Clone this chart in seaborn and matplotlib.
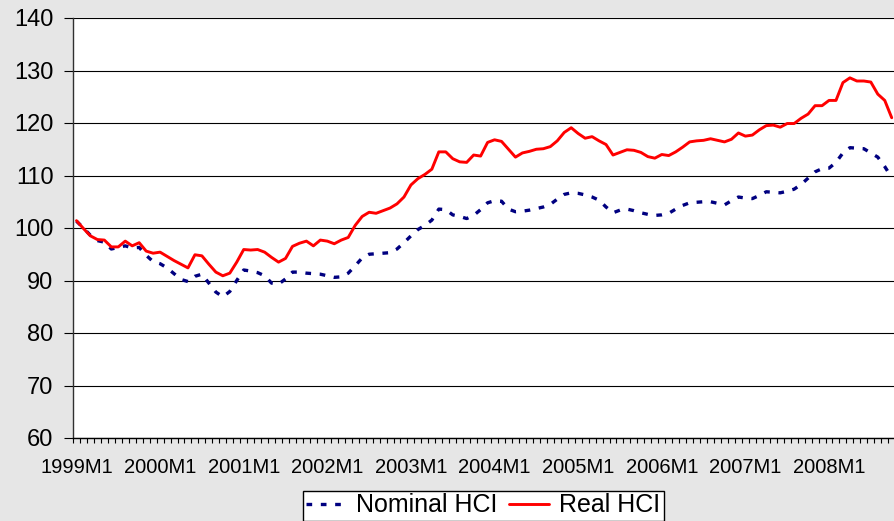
import matplotlib
matplotlib.use("Agg")
import matplotlib.pyplot as plt
import seaborn as sns
import pandas as pd
import numpy as np

# ---- data (monthly, 1999M1 .. 2008M10) ----
real_hci = [
    101.4, 99.9, 98.5, 97.8, 97.7, 96.4, 96.4, 97.5, 96.6, 97.2,
    95.6, 95.2, 95.4, 94.6, 93.8, 93.1, 92.4, 94.9, 94.7, 93.1,
    91.6, 90.9, 91.4, 93.5, 95.9, 95.8, 95.9, 95.4, 94.4, 93.5,
    94.2, 96.5, 97.1, 97.5, 96.6, 97.7, 97.5, 97.0, 97.7, 98.2,
    100.5, 102.2, 103.0, 102.8, 103.3, 103.8, 104.6, 105.9, 108.2, 109.4,
    110.2, 111.2, 114.5, 114.5, 113.2, 112.6, 112.5, 113.9, 113.7, 116.3,
    116.8, 116.5, 115.0, 113.5, 114.3, 114.6, 115.0, 115.1, 115.5, 116.6,
    118.2, 119.1, 118.0, 117.1, 117.4, 116.6, 115.9, 113.9, 114.4, 114.9,
    114.8, 114.4, 113.6, 113.3, 114.0, 113.8, 114.5, 115.4, 116.4, 116.6,
    116.7, 117.0, 116.7, 116.4, 116.9, 118.1, 117.5, 117.7, 118.7, 119.5,
    119.6, 119.2, 119.9, 119.9, 120.9, 121.7, 123.3, 123.3, 124.3, 124.3,
    127.7, 128.6, 128.0, 128.0, 127.8, 125.5, 124.3, 121.0,
]
nominal_hci = [
    101.3, 100.0, 98.6, 97.6, 97.3, 96.0, 96.3, 96.6, 96.2, 96.3,
    94.8, 93.6, 93.2, 92.4, 91.3, 90.2, 89.8, 90.8, 91.2, 89.5,
    87.8, 86.9, 87.9, 90.0, 92.0, 91.8, 91.5, 90.9, 89.5, 89.3,
    90.3, 91.6, 91.6, 91.4, 91.3, 91.2, 90.9, 90.6, 90.7, 91.4,
    92.8, 94.3, 95.0, 95.1, 95.2, 95.3, 96.0, 97.2, 98.5, 99.7,
    100.5, 101.5, 103.6, 103.5, 102.5, 102.2, 101.8, 102.4, 103.5, 104.8,
    105.2, 105.1, 103.6, 103.1, 103.2, 103.4, 103.7, 104.0, 104.5, 105.5,
    106.4, 106.7, 106.6, 106.3, 105.9, 105.3, 104.0, 102.9, 103.4, 103.6,
    103.3, 102.9, 102.6, 102.4, 102.5, 102.8, 103.6, 104.3, 104.8, 104.9,
    105.0, 105.0, 104.7, 104.4, 105.2, 105.9, 105.7, 105.6, 106.2, 106.9,
    106.8, 106.7, 107.0, 107.4, 108.3, 109.5, 110.7, 111.3, 111.4, 112.5,
    114.3, 115.3, 115.2, 115.1, 114.3, 113.5, 111.7, 109.6,
]
tick_labels = ["1999M1", "2000M1", "2001M1", "2002M1", "2003M1",
               "2004M1", "2005M1", "2006M1", "2007M1", "2008M1"]
y_ticks = [60, 70, 80, 90, 100, 110, 120, 130, 140]

n = min(len(real_hci), len(nominal_hci))
df = pd.DataFrame({"idx": np.arange(n),
                   "Nominal HCI": nominal_hci[:n],
                   "Real HCI": real_hci[:n]})

sns.set_theme(style="white")
plt.rcParams["font.family"] = ["Liberation Sans", "DejaVu Sans"]

W, H = 894, 521
fig = plt.figure(figsize=(W / 100, H / 100), dpi=100, facecolor="#e6e6e6")
ax = fig.add_axes([73 / W, 83 / H, 822.2 / W, 420 / H])
ax.set_facecolor("white")

sns.lineplot(data=df, x="idx", y="Nominal HCI", ax=ax, color="#000080",
             lw=2.4, linestyle=(0, (1.7, 2.6)), label="Nominal HCI")
sns.lineplot(data=df, x="idx", y="Real HCI", ax=ax, color="#ff0000",
             lw=2.1, label="Real HCI")
if ax.get_legend() is not None:
    ax.get_legend().remove()

ax.set_xlim(-0.5, n - 0.5)
ax.set_ylim(60, 140)
ax.set_yticks(y_ticks)
ax.set_yticklabels([str(v) for v in y_ticks])
ax.yaxis.grid(True, color="black", lw=0.8)
ax.xaxis.grid(False)
ax.set_axisbelow(True)

ax.set_xticks(np.arange(0, 12 * len(tick_labels), 12))
ax.set_xticklabels(tick_labels)
ax.set_xticks(np.arange(-0.5, n, 1), minor=True)
ax.tick_params(axis="x", which="major", length=0, pad=14.5, labelsize=14.5,
               labelcolor="black", bottom=True)
ax.tick_params(axis="x", which="minor", length=3.8, width=0.8,
               color="black", direction="out", bottom=True)
ax.tick_params(axis="y", which="major", length=6.5, width=0.8, color="black",
               direction="out", pad=7.5, labelsize=17, labelcolor="black", left=True)
ax.set_xlabel("")
ax.set_ylabel("")

for s in ["top", "right"]:
    ax.spines[s].set_visible(False)
ax.spines["left"].set_color("#303030")
ax.spines["left"].set_linewidth(1.0)
ax.spines["bottom"].set_color("black")
ax.spines["bottom"].set_linewidth(1.0)

handles, labels = ax.get_legend_handles_labels()
leg = fig.legend(handles, labels, loc="center",
                 bbox_to_anchor=(483 / W, 15.5 / H), ncol=2, frameon=True,
                 fancybox=False, edgecolor="black", facecolor="white",
                 framealpha=1, fontsize=18, handlelength=1.6,
                 handletextpad=0.4, columnspacing=0.5, borderpad=0.12,
                 borderaxespad=0)
leg.get_frame().set_linewidth(1.0)
for t in leg.get_texts():
    t.set_color("black")

fig.savefig("out.png", dpi=100, facecolor=fig.get_facecolor())
